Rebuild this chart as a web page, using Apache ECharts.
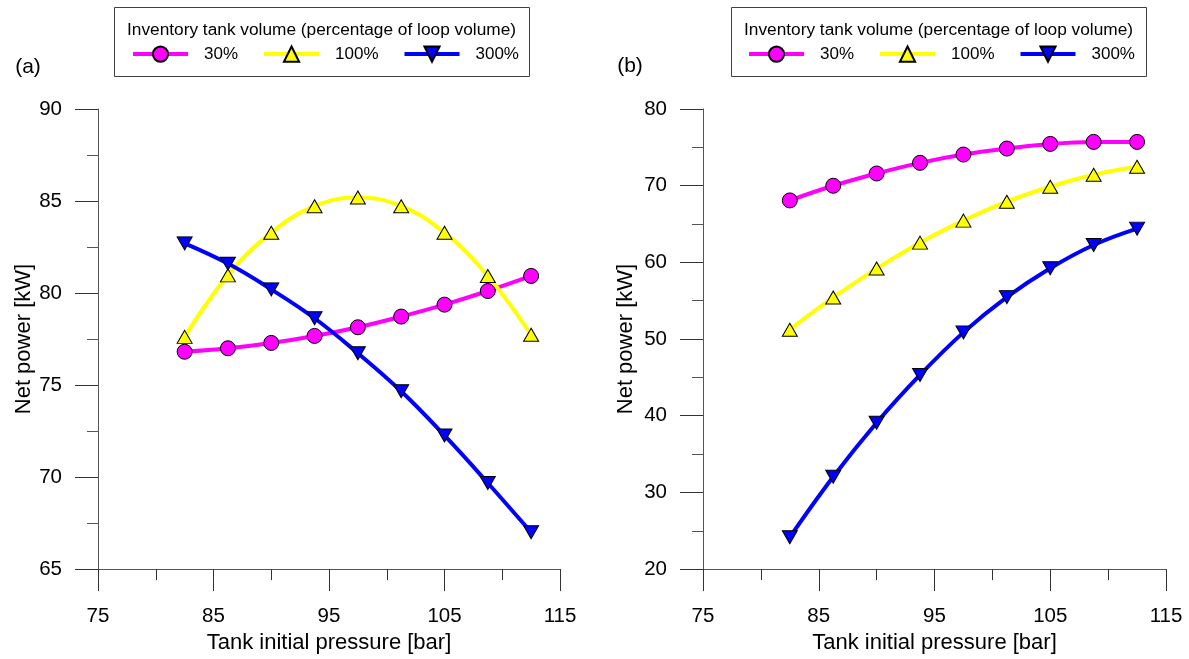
<!DOCTYPE html>
<html>
<head>
<meta charset="utf-8">
<script src="https://cdn.jsdelivr.net/npm/echarts@6/dist/echarts.min.js"></script>
<style>
html,body{margin:0;padding:0;background:#fff;}
#c{width:1189px;height:659px;}
</style>
</head>
<body>
<div id="c"></div>
<script>
// Tank initial pressure [bar]
var pressure = [82.5, 86.25, 90, 93.75, 97.5, 101.25, 105, 108.75, 112.5];
// Panel (a) net power [kW]
var a30  = [76.81, 77.00, 77.29, 77.67, 78.14, 78.72, 79.37, 80.11, 80.93];
var a100 = [77.62, 80.96, 83.28, 84.72, 85.19, 84.72, 83.28, 80.93, 77.73];
var a300 = [82.70, 81.60, 80.20, 78.63, 76.73, 74.66, 72.26, 69.68, 67.00];
// Panel (b) net power [kW]
var b30  = [68.08, 69.99, 71.59, 72.98, 74.06, 74.84, 75.45, 75.71, 75.71];
var b100 = [51.22, 55.42, 59.19, 62.57, 65.44, 67.91, 69.86, 71.42, 72.46];
var b300 = [24.16, 32.04, 39.09, 45.32, 50.87, 55.47, 59.24, 62.27, 64.40];
var seriesNames = ['30%', '100%', '300%'];
var legendTitle = 'Inventory tank volume (percentage of loop volume)';
var xName = 'Tank initial pressure [bar]';
var yName = 'Net power [kW]';

var FONT = '"Liberation Sans", Arial, sans-serif';
function pairs(ys){ return pressure.map(function(x,i){ return [x, ys[i]]; }); }

var styles = [
  {color:'#FF00FF', symbol:'circle', size:15, rotate:0},
  {color:'#FFFF00', symbol:'triangle', size:[15,13], rotate:0},
  {color:'#0000FF', symbol:'triangle', size:[15,13], rotate:180}
];

function mkSeries(name, idx, ys, axisIdx){
  var s = styles[idx];
  return {
    name: name, type:'line', xAxisIndex:axisIdx, yAxisIndex:axisIdx,
    data: pairs(ys), smooth: 0.4,
    symbol: s.symbol, symbolSize: s.size, symbolRotate: s.rotate,
    showAllSymbol: true,
    lineStyle: {color:s.color, width:4},
    itemStyle: {color:s.color, borderColor:'#000', borderWidth:1},
    z: 2 + idx
  };
}

function xAxisCfg(gi){
  return {
    type:'value', gridIndex:gi, min:75, max:115, interval:10,
    name: xName, nameLocation:'middle', nameGap:50,
    nameTextStyle:{fontFamily:FONT, fontSize:22, color:'#000'},
    axisLine:{show:true, onZero:false, lineStyle:{color:'#555', width:1}},
    axisTick:{show:true, length:22, lineStyle:{color:'#333', width:1}},
    minorTick:{show:true, splitNumber:2, length:11, lineStyle:{color:'#333', width:1}},
    splitLine:{show:false},
    axisLabel:{fontFamily:FONT, fontSize:20.5, color:'#000', margin:37}
  };
}
function yAxisCfg(gi, min, max, interval, gap){
  return {
    type:'value', gridIndex:gi, min:min, max:max, interval:interval,
    name: yName, nameLocation:'middle', nameGap:gap,
    nameTextStyle:{fontFamily:FONT, fontSize:22, color:'#000'},
    axisLine:{show:true, onZero:false, lineStyle:{color:'#555', width:1}},
    axisTick:{show:true, length:23, lineStyle:{color:'#333', width:1}},
    minorTick:{show:true, splitNumber:2, length:11, lineStyle:{color:'#555', width:1}},
    splitLine:{show:false},
    axisLabel:{fontFamily:FONT, fontSize:20.5, color:'#000', margin:36}
  };
}

function legendCfg(left){
  return {
    data: seriesNames, left:left, top:45.5, orient:'horizontal',
    padding:0, itemWidth:55, itemHeight:19, itemGap:24,
    selectedMode:false,
    lineStyle:{width:4},
    textStyle:{fontFamily:FONT, fontSize:17, color:'#000', padding:[0,0,0,11]}
  };
}

function box(x, w){
  return {type:'rect', shape:{x:x+0.5, y:7.5, width:w, height:69},
          style:{fill:'#fff', stroke:'#404040', lineWidth:1}, z:-1};
}
function txt(x, y, t, size){
  return {type:'text', x:x, y:y,
          style:{text:t, fill:'#000', font: size + 'px ' + FONT,
                 align:'center', verticalAlign:'middle',
                 textAlign:'center', textVerticalAlign:'middle'}};
}

var chart = echarts.init(document.getElementById('c'), null, {renderer:'canvas'});
chart.setOption({
  animation:false,
  backgroundColor:'#fff',
  grid:[
    {left:98, right:629, top:109, bottom:88},
    {left:703, right:23, top:109, bottom:88}
  ],
  xAxis:[xAxisCfg(0), xAxisCfg(1)],
  yAxis:[yAxisCfg(0, 65, 90, 5, 61), yAxisCfg(1, 20, 80, 10, 66)],
  legend:[legendCfg(131), legendCfg(747)],
  graphic:[
    box(114, 415), box(731, 415),
    txt(321.5, 30, legendTitle, 17.3),
    txt(938.5, 30, legendTitle, 17.3),
    txt(28, 67, '(a)', 21),
    txt(630, 66, '(b)', 21)
  ],
  series:[
    mkSeries(seriesNames[0], 0, a30, 0),
    mkSeries(seriesNames[1], 1, a100, 0),
    mkSeries(seriesNames[2], 2, a300, 0),
    mkSeries(seriesNames[0], 0, b30, 1),
    mkSeries(seriesNames[1], 1, b100, 1),
    mkSeries(seriesNames[2], 2, b300, 1)
  ]
});
</script>
</body>
</html>
